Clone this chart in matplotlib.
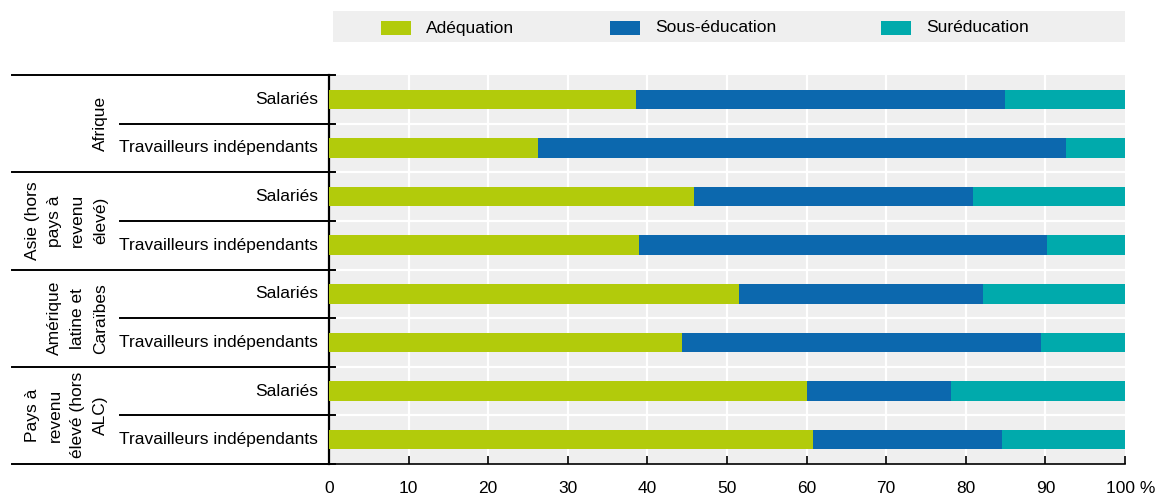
import matplotlib
matplotlib.use("Agg")
import matplotlib.pyplot as plt
from matplotlib.patches import Rectangle
from matplotlib.transforms import blended_transform_factory
import numpy as np

plt.rcParams['font.family'] = ['Liberation Sans', 'DejaVu Sans']

regions = ["Afrique", "Asie (hors\npays à\nrevenu\nélevé)", "Amérique\nlatine et\nCaraïbes",
           "Pays à\nrevenu\nélevé (hors\nALC)"]
statuses = ["Salariés", "Travailleurs indépendants"]
series = ["Adéquation", "Sous-éducation", "Suréducation"]

adequation = [38.6, 26.3, 45.8, 39.0, 51.5, 44.3, 60.1, 60.8]
sous_education = [46.3, 66.3, 35.1, 51.2, 30.7, 45.1, 18.0, 23.7]
sur_education = [15.1, 7.4, 19.1, 9.8, 17.8, 10.6, 21.9, 15.5]

xticks = [0, 10, 20, 30, 40, 50, 60, 70, 80, 90, 100]

colors = ["#b2cb0b", "#0c68ae", "#00aaac"]
bg = "#efefef"
FS = 12.5

W, H = 1159, 496
fig = plt.figure(figsize=(W / 100, H / 100), dpi=100)
ax = fig.add_axes([329 / W, 32 / H, (1125 - 329) / W, (464 - 75) / H])
ax.set_facecolor(bg)

n = len(adequation)
y = np.arange(n)
left = np.zeros(n)
for vals, col in zip([adequation, sous_education, sur_education], colors):
    ax.barh(y, vals, left=left, height=0.4, color=col, zorder=3)
    left = left + np.array(vals)

ax.set_ylim(n - 0.5, -0.5)
ax.set_xlim(0, 100)

# white grid: vertical at ticks, horizontal between rows
for xv in xticks[1:-1]:
    ax.axvline(xv, color="white", lw=1.6, zorder=1)
for b in np.arange(0.5, n - 0.5, 1):
    ax.axhline(b, color="white", lw=1.6, zorder=1)

for s in ["top", "right"]:
    ax.spines[s].set_visible(False)
ax.spines["left"].set_color("black")
ax.spines["left"].set_linewidth(1.6)
ax.spines["bottom"].set_color("black")
ax.spines["bottom"].set_linewidth(1.2)

PAD = 12
ax.set_yticks([])
ax.set_xticks(xticks)
ax.set_xticklabels([str(v) for v in xticks[:-1]] + [""], fontsize=FS)
ax.tick_params(axis="x", direction="in", length=6, width=1.2, color="black", pad=PAD)
ax.annotate("100 %", xy=(100, 0), xycoords=("data", "axes fraction"),
            xytext=(-19, -PAD * 100 / 72), textcoords="offset pixels",
            ha="left", va="top", fontsize=FS)

# left-hand table of row labels
tr = blended_transform_factory(fig.transFigure, ax.transData)
for b in [-0.5, 1.5, 3.5, 5.5, 7.5]:
    ax.plot([12 / W, 335 / W], [b, b], color="black", lw=1.4, transform=tr, clip_on=False)
for b in [0.5, 2.5, 4.5, 6.5]:
    ax.plot([120 / W, 335 / W], [b, b], color="black", lw=1.4, transform=tr, clip_on=False)

for i in range(n):
    ax.text(318 / W, i, statuses[i % 2], transform=tr, ha="right", va="center", fontsize=FS)
for g, name in enumerate(regions):
    ax.text(108 / W, 2 * g + 0.5, name, transform=tr, rotation=90, ha="right", va="center",
            multialignment="center", fontsize=FS, linespacing=1.65)

# legend band
fig.patches.append(Rectangle((333 / W, 1 - 42 / H), (1125 - 333) / W, 31 / H,
                             transform=fig.transFigure, facecolor=bg, edgecolor="none"))
leg_x = [381, 610, 881]
for lx, name, col in zip(leg_x, series, colors):
    fig.patches.append(Rectangle((lx / W, 1 - 35 / H), 30 / W, 14 / H,
                                 transform=fig.transFigure, facecolor=col, edgecolor="none"))
    fig.text((lx + 45) / W, 1 - 28 / H, name, ha="left", va="center", fontsize=FS)

fig.savefig("out.png", dpi=100)
